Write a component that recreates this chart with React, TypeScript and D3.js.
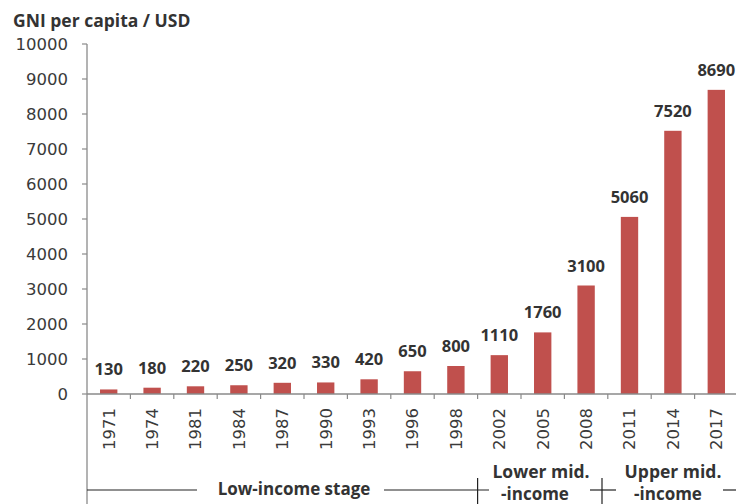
import React from "react";
import * as d3 from "d3";

const years = ["1971","1974","1981","1984","1987","1990","1993","1996","1998","2002","2005","2008","2011","2014","2017"];
const gni = [130,180,220,250,320,330,420,650,800,1110,1760,3100,5060,7520,8690];
const yTicks = [0,1000,2000,3000,4000,5000,6000,7000,8000,9000,10000];
const title = "GNI per capita / USD";
const stageLow = "Low-income stage";
const stageLowerMid = ["Lower mid.", "-income"];
const stageUpperMid = ["Upper mid.", "-income"];

const W = 736, H = 504;
const FONT = "'DejaVu Sans', sans-serif";
const BOLD = "'Open Sans', sans-serif";

export default function App() {
  const x = d3.scaleBand<string>().domain(years).range([87, 738]).paddingInner(0.6).paddingOuter(0.3);
  const y = d3.scaleLinear().domain([0, 10000]).range([394, 44]);
  const step = x.step();
  const bw = x.bandwidth();
  const sepX = years.slice(1).map((yr) => (x(yr) as number) - step * 0.3);
  const axisLeft = 87;
  const cross1 = (x("2002") as number) - step * 0.3;
  const cross2 = 602;
  return (
    <svg width={W} height={H} style={{ position: "absolute", left: 0, top: 0, background: "#fff" }} fontFamily={FONT}>
      <text x={13} y={27} fontSize={17.5} fontWeight="bold" fontFamily={BOLD} fill="#333">{title}</text>
      {/* y axis */}
      <line x1={axisLeft} x2={axisLeft} y1={y(10000)} y2={504} stroke="#8a8a8a" strokeWidth={1.3} />
      {yTicks.map((t) => (
        <g key={t}>
          <line x1={axisLeft - 5} x2={axisLeft} y1={y(t)} y2={y(t)} stroke="#8a8a8a" strokeWidth={1.2} />
          <text x={68} y={y(t)} dy="0.36em" textAnchor="end" fontSize={16.5} fill="#3a3a3a">{t}</text>
        </g>
      ))}
      {/* bars */}
      {years.map((yr, i) => (
        <rect key={yr} x={x(yr)} y={y(gni[i])} width={bw} height={y(0) - y(gni[i])} fill="#C0504D" />
      ))}
      {/* x axis */}
      <line x1={axisLeft} x2={W} y1={y(0)} y2={y(0)} stroke="#8a8a8a" strokeWidth={1.3} />
      {sepX.map((sx, i) => (
        <line key={i} x1={sx} x2={sx} y1={y(0)} y2={y(0) + 5} stroke="#8a8a8a" strokeWidth={1.2} />
      ))}
      {/* value labels */}
      {years.map((yr, i) => (
        <text key={yr} x={(x(yr) as number) + bw / 2} y={y(gni[i]) - 14} textAnchor="middle" fontSize={16.5} fontWeight="bold" fontFamily={BOLD} fill="#333">{gni[i]}</text>
      ))}
      {/* year labels */}
      {years.map((yr) => {
        const cx = (x(yr) as number) + bw / 2;
        return (
          <text key={yr} transform={`translate(${cx},408) rotate(-90)`} textAnchor="end" dy="0.36em" fontSize={16.5} fill="#3a3a3a">{yr}</text>
        );
      })}
      {/* stage brackets */}
      <line x1={axisLeft} x2={197} y1={490} y2={490} stroke="#222" strokeWidth={1.2} />
      <text x={294} y={495} textAnchor="middle" fontSize={17} fontWeight="bold" fontFamily={BOLD} fill="#333">{stageLow}</text>
      <line x1={384} x2={489} y1={490} y2={490} stroke="#222" strokeWidth={1.2} />
      <line x1={cross1} x2={cross1} y1={478} y2={504} stroke="#222" strokeWidth={1.2} />
      <text x={541} y={478} textAnchor="middle" fontSize={17.5} fontWeight="bold" fontFamily={BOLD} fill="#333">{stageLowerMid[0]}</text>
      <text x={535} y={500} textAnchor="middle" fontSize={17} fontWeight="bold" fontFamily={BOLD} fill="#333">{stageLowerMid[1]}</text>
      <line x1={590} x2={616} y1={490} y2={490} stroke="#222" strokeWidth={1.2} />
      <line x1={cross2} x2={cross2} y1={478} y2={504} stroke="#222" strokeWidth={1.2} />
      <text x={673} y={478} textAnchor="middle" fontSize={17.5} fontWeight="bold" fontFamily={BOLD} fill="#333">{stageUpperMid[0]}</text>
      <text x={668} y={500} textAnchor="middle" fontSize={17} fontWeight="bold" fontFamily={BOLD} fill="#333">{stageUpperMid[1]}</text>
      <line x1={723} x2={W} y1={490} y2={490} stroke="#222" strokeWidth={1.2} />
    </svg>
  );
}
